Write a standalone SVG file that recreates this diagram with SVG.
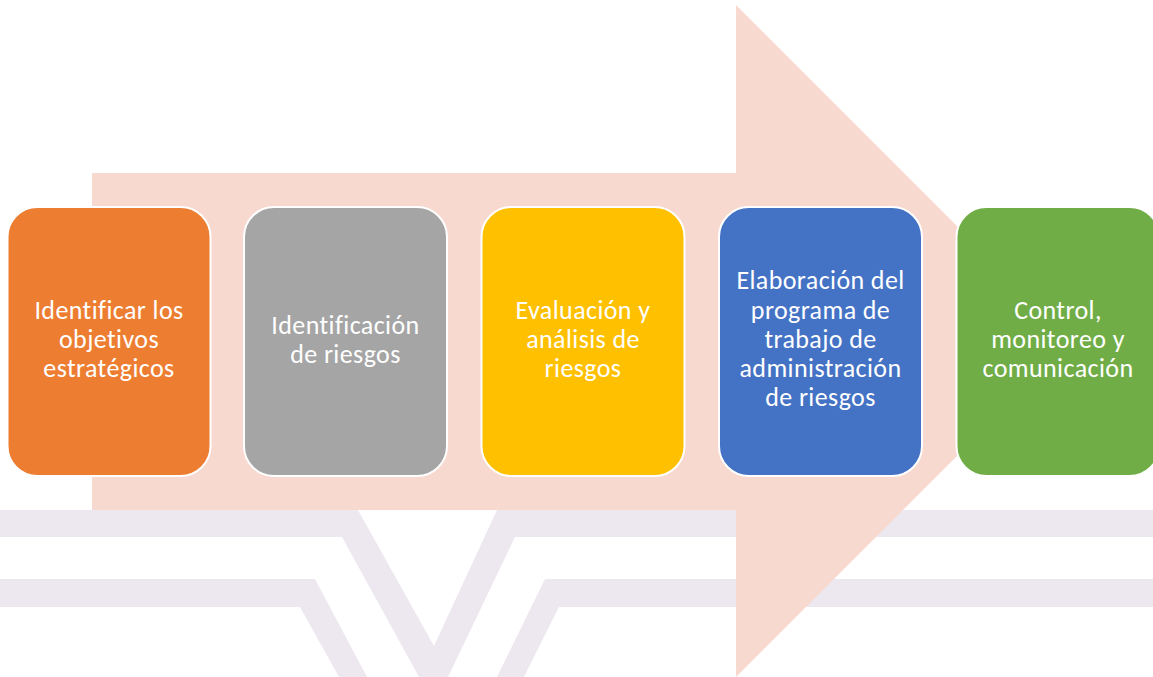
<svg xmlns="http://www.w3.org/2000/svg" width="1153" height="677" viewBox="0 0 1153 677">
<style>
.band{fill:#ede8ef}
.arrow{fill:#f8d9cf}
.box{stroke:#ffffff;stroke-width:2}
.t{font-family:Carlito,Calibri,"Liberation Sans",sans-serif;font-size:26px;letter-spacing:0.4px;font-variant-ligatures:none;fill:#ffffff;text-anchor:middle}
</style>
<rect width="1153" height="677" fill="#ffffff"/>
<g id="background">
<polygon class="band" points="0,510 358,510 434,646 497,510 1153,510 1153,537 515,537 448,677 419,677 342,537 0,537"/>
<polygon class="band" points="0,579 315,579 367,677 339,677 300,607 0,607"/>
<polygon class="band" points="545,579 1153,579 1153,607 559,607 524,677 497,677"/>
<polygon class="arrow" points="92,173 736,173 736,5 1072,341 736,677 736,510 92,510"/>
</g>
<g id="node1">
<rect class="box" x="7.5" y="207" width="203" height="269" rx="30" fill="#ed7d31"/>
<text class="t" x="109" y="319">Identificar los</text>
<text class="t" x="109" y="348">objetivos</text>
<text class="t" x="109" y="377">estratégicos</text>
</g>
<g id="node2">
<rect class="box" x="244" y="207" width="203" height="269" rx="30" fill="#a5a5a5"/>
<text class="t" x="345.5" y="334">Identificación</text>
<text class="t" x="345.5" y="363">de riesgos</text>
</g>
<g id="node3">
<rect class="box" x="481.5" y="207" width="203" height="269" rx="30" fill="#ffc000"/>
<text class="t" x="583" y="319">Evaluación y</text>
<text class="t" x="583" y="348">análisis de</text>
<text class="t" x="583" y="377">riesgos</text>
</g>
<g id="node4">
<rect class="box" x="719" y="207" width="203" height="269" rx="30" fill="#4472c4"/>
<text class="t" x="820.5" y="289">Elaboración del</text>
<text class="t" x="820.5" y="319">programa de</text>
<text class="t" x="820.5" y="348">trabajo de</text>
<text class="t" x="820.5" y="377">administración</text>
<text class="t" x="820.5" y="406">de riesgos</text>
</g>
<g id="node5">
<rect class="box" x="956.5" y="207" width="203" height="269" rx="30" fill="#70ad47"/>
<text class="t" x="1058" y="319">Control,</text>
<text class="t" x="1058" y="348">monitoreo y</text>
<text class="t" x="1058" y="377">comunicación</text>
</g>
<g id="connectors"></g>
</svg>
